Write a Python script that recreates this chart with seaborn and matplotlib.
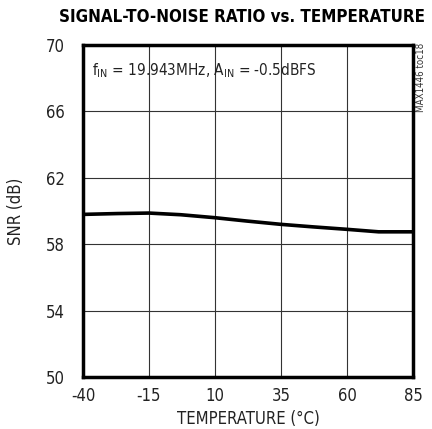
import matplotlib
matplotlib.use("Agg")
import matplotlib.pyplot as plt
import numpy as np
import pandas as pd
import seaborn as sns

# data
temperature = [-40, -27, -15, -3, 10, 22, 35, 47, 60, 72, 85]
snr = [59.8, 59.85, 59.88, 59.78, 59.6, 59.4, 59.2, 59.05, 58.9, 58.75, 58.75]
x_ticks = [-40, -15, 10, 35, 60, 85]
y_ticks = [50, 54, 58, 62, 66, 70]

df = pd.DataFrame({"temp": temperature, "snr": snr})

sns.set_style("white")
plt.rcParams["font.family"] = ["DejaVu Sans"]
plt.rcParams["font.stretch"] = "condensed"
plt.rcParams["axes.unicode_minus"] = False

fig = plt.figure(figsize=(4.32, 4.29), dpi=100)
ax = fig.add_axes([0.192, 0.121, 0.764, 0.774])

sns.lineplot(data=df, x="temp", y="snr", color="black", linewidth=2.6, ax=ax)

ax.set_xlim(-40, 85)
ax.set_ylim(50, 70)
ax.set_xticks(x_ticks)
ax.set_yticks(y_ticks)
ax.grid(True, color="#333333", linewidth=0.8)
for s in ax.spines.values():
    s.set_visible(True)
    s.set_color("black")
    s.set_linewidth(2.5)
ax.tick_params(axis="both", length=0, labelsize=12, colors="#222222")
ax.tick_params(axis="x", pad=7)
ax.tick_params(axis="y", pad=13)
ax.set_xlabel("TEMPERATURE (°C)", fontsize=12, color="#222222")
ax.set_ylabel("SNR (dB)", fontsize=12, color="#222222")
ax.xaxis.set_label_coords(0.5, -0.1)
ax.yaxis.set_label_coords(-0.175, 0.5)

ax.text(0.027, 0.95, r"f$_{\mathregular{IN}}$ = 19.943MHz, A$_{\mathregular{IN}}$ = -0.5dBFS",
        transform=ax.transAxes, fontsize=11, va="top", ha="left", color="#222222")

fig.text(0.561, 0.982, "SIGNAL-TO-NOISE RATIO vs. TEMPERATURE", ha="center", va="top",
         fontsize=12.2, fontweight="bold", color="black")
fig.text(0.975, 0.9, "MAX1446 toc18", rotation=90, ha="center", va="top",
         fontsize=7, color="#333333")

fig.savefig("out.png", dpi=100)
